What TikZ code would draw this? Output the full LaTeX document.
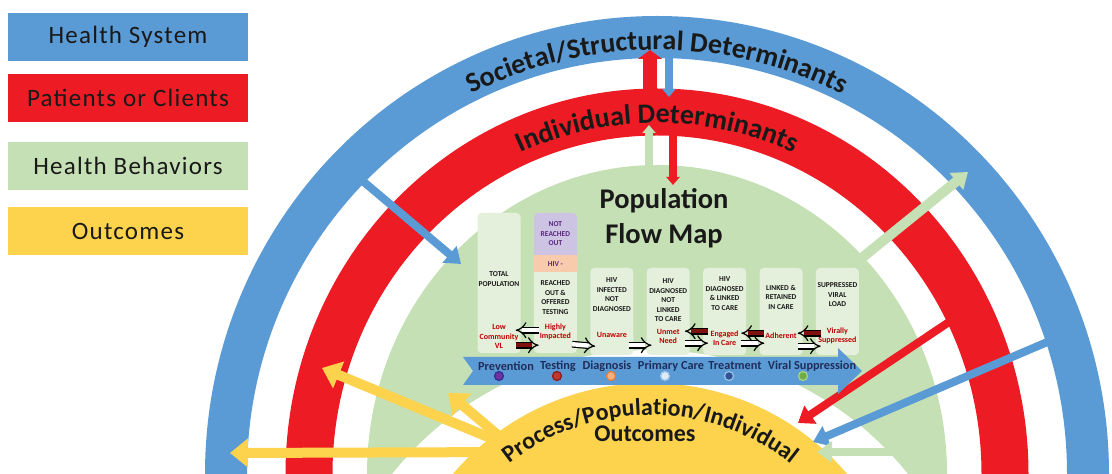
\documentclass[tikz,border=0pt]{standalone}
\usepackage{fontspec}
\setmainfont{Carlito}
\newfontfamily\legendfont[LetterSpace=5]{Carlito}
\usetikzlibrary{arrows.meta,positioning,calc,decorations.text}
\definecolor{sysblue}{HTML}{5B9BD5}
\definecolor{patred}{HTML}{ED1C24}
\definecolor{behgreen}{HTML}{C5E0B4}
\definecolor{outyellow}{HTML}{FDD34D}
\definecolor{boxgreen}{HTML}{E4F0DC}
\definecolor{notpurple}{HTML}{CDC3E3}
\definecolor{negpeach}{HTML}{F8CBAD}
\definecolor{lblred}{HTML}{C00000}
\definecolor{backred}{HTML}{7F1010}
\definecolor{stagenavy}{HTML}{1F2D5A}
\definecolor{dotpurple}{HTML}{7030A0}
\definecolor{dotnavy}{HTML}{2E3192}
\definecolor{dotred}{HTML}{C0392B}
\definecolor{dotdkred}{HTML}{8B1A1A}
\definecolor{dotorange}{HTML}{F4B183}
\definecolor{dotdkorange}{HTML}{ED7D31}
\definecolor{dotpale}{HTML}{DEEBF7}
\definecolor{dotsky}{HTML}{9DC3E6}
\definecolor{dotblue}{HTML}{2F5597}
\definecolor{dotgreen}{HTML}{70AD47}
\definecolor{dotltgreen}{HTML}{A9D18E}
\newcommand{\ringfont}{\bfseries\fontsize{28}{28}\selectfont}
\newcommand{\corefont}{\bfseries\fontsize{24}{24}\selectfont}
\tikzset{
  legendbox/.style={minimum width=240pt,minimum height=48pt,inner sep=0pt,font=\legendfont\fontsize{25}{28}\selectfont,text=black!90},
  flowbox/.style={fill=boxgreen,rounded corners=4pt,minimum width=43pt,inner sep=0pt},
  flowtext/.style={align=center,inner sep=0pt,font=\bfseries\fontsize{7.5}{9.5}\selectfont,text=black!90},
  flowlabel/.style={flowtext,text=lblred,font=\bfseries\fontsize{8}{9.5}\selectfont},
  whitestep/.style={double=white,double distance=4.4pt,line width=1.2pt,-Implies},
  redstep/.style={whitestep,double=backred},
  stagedot/.style={circle,minimum size=9pt,inner sep=0pt,line width=1.2pt},
  stagetext/.style={font=\bfseries\fontsize{12.3}{13}\selectfont,text=stagenavy,inner sep=0pt},
  ringarrow/.style={line width=8pt,-{Triangle[length=15pt,width=21pt]}},
  thinarrow/.style={line width=8pt,-{Triangle[length=8pt,width=13pt]}},
  yellowarrow/.style={line width=10pt,draw=outyellow,-{Triangle[length=18pt,width=28pt]}}
}

\begin{document}
\begin{tikzpicture}[x=1pt,y=1pt]
  \useasboundingbox (0,0) rectangle (1112,474);
  % rings
  \draw[sysblue,line width=42pt] (226,0) arc[start angle=180,end angle=0,x radius=431,y radius=437];
  \draw[patred,line width=47pt] (309,0) arc[start angle=180,end angle=0,x radius=348,y radius=362];
  \fill[behgreen] (367,0) arc[start angle=180,end angle=0,x radius=290,y radius=309] -- cycle;
  \fill[white] (650,-206) circle[radius=330];
  \fill[outyellow] (650,-168) circle[radius=259];

  % legend
  \node[legendbox,fill=sysblue] (lgsys) at (128,437) {Health System};
  \node[legendbox,fill=patred,below=13pt of lgsys] (lgpat) {Patients or Clients};
  \node[legendbox,fill=behgreen,below=19pt of lgpat] (lgbeh) {Health Behaviors};
  \node[legendbox,fill=outyellow,below=17pt of lgbeh] (lgout) {Outcomes};

  % arrows between the rings
  \coordinate (patup0) at (650,380);   \coordinate (patup1) at (650,424);
  \coordinate (sysdn0) at (669,418);   \coordinate (sysdn1) at (669,377);
  \coordinate (behup0) at (649,305);   \coordinate (behup1) at (649,349);
  \coordinate (patdn0) at (673,341);   \coordinate (patdn1) at (673,289);
  \coordinate (sysin0) at (358,297);   \coordinate (sysin1) at (461,210);
  \coordinate (behout0) at (863,217);  \coordinate (behout1) at (968,302);
  \coordinate (patin0) at (952,154);   \coordinate (patin1) at (798,51);
  \coordinate (sysout0) at (1052,134); \coordinate (sysout1) at (813,32);
  \coordinate (behin0) at (907,22);    \coordinate (behin1) at (817,22);
  \coordinate (core0) at (512,27);     \coordinate (core1) at (520,22);
  \coordinate (outpat) at (322,106);   \coordinate (outbeh) at (448,81);
  \coordinate (outsys) at (230,21);
  \draw[patred,line width=14pt,-{Triangle[length=9pt,width=24pt]}] (patup0) -- (patup1);
  \draw[sysblue,thinarrow] (sysdn0) -- (sysdn1);
  \draw[behgreen,thinarrow] (behup0) -- (behup1);
  \draw[patred,thinarrow] (patdn0) -- (patdn1);
  \draw[sysblue,ringarrow] (sysin0) -- (sysin1);
  \draw[behgreen,ringarrow,line width=10pt] (behout0) -- (behout1);
  \draw[patred,ringarrow] (patin0) -- (patin1);
  \draw[sysblue,ringarrow] (sysout0) -- (sysout1);
  \draw[behgreen,ringarrow] (behin0) -- (behin1);
  \draw[yellowarrow] (core0) -- (outpat);
  \draw[yellowarrow] (core0) -- (outbeh);
  \draw[yellowarrow] (core1) -- (outsys);

  % population flow map
  \node[flowbox,minimum height=140pt] (b1) at (499,191) {};
  \node[flowbox,minimum height=140pt,right=13pt of b1] (b2) {};
  \node[flowbox,fill=notpurple,minimum height=46pt,below=0pt of b2.north] (nr) {};
  \node[fill=negpeach,minimum width=43pt,minimum height=17pt,inner sep=0pt,below=-4pt of nr] (neg) {};
  \node[flowbox,minimum height=87pt,right=13pt of b2.south east,anchor=south west,yshift=-2pt] (b3) {};
  \node[flowbox,minimum height=87pt,right=13pt of b3] (b4) {};
  \node[flowbox,minimum height=87pt,right=13pt of b4] (b5) {};
  \node[flowbox,minimum height=87pt,right=13pt of b5] (b6) {};
  \node[flowbox,minimum height=87pt,right=13pt of b6] (b7) {};

  \node[flowtext,below=59pt of b1.north] (t1) {TOTAL\\POPULATION};
  \node[flowtext,text=dotpurple!80!black] (tnr) at ([yshift=2pt]nr.center) {NOT\\REACHED\\OUT};
  \node[flowtext,text=dotpurple!80!black] (tneg) at (neg) {HIV -};
  \node[flowtext,below=8pt of neg] (t2) {REACHED\\OUT \&\\OFFERED\\TESTING};
  \node[flowtext,below=10pt of b3.north] (t3) {HIV\\INFECTED\\NOT\\DIAGNOSED};
  \node[flowtext,below=11pt of b4.north] (t4) {HIV\\DIAGNOSED\\NOT\\LINKED\\TO CARE};
  \node[flowtext,below=9pt of b5.north] (t5) {HIV\\DIAGNOSED\\\& LINKED\\TO CARE};
  \node[flowtext,below=17pt of b6.north] (t6) {LINKED \&\\RETAINED\\IN CARE};
  \node[flowtext,below=15pt of b7.north] (t7) {SUPPRESSED\\VIRAL\\LOAD};

  \node[flowlabel,above=4pt of b1.south] (l1) {Low\\Community\\VL};
  \node[flowlabel,above=13pt of b2.south] (l2) {Highly\\Impacted};
  \node[flowlabel,above=17pt of b3.south] (l3) {Unaware};
  \node[flowlabel,above=11pt of b4.south] (l4) {Unmet\\Need};
  \node[flowlabel,above=9pt of b5.south] (l5) {Engaged\\In Care};
  \node[flowlabel,above=16pt of b6.south] (l6) {Adherent};
  \node[flowlabel,above=11pt of b7.south] (l7) {Virally\\Suppressed};

  \foreach \a/\b/\s/\h in {b1/b2/redstep/8,b2/b3/whitestep/9,b3/b4/whitestep/10,b4/b5/whitestep/12,b5/b6/whitestep/12,b6/b7/whitestep/9}
    \draw[\s] ([xshift=-5pt,yshift=\h]\a.south east) -- ([xshift=5pt,yshift=\h]\b.south west);
  \foreach \a/\b/\s/\h in {b1/b2/whitestep/23,b4/b5/redstep/24,b5/b6/redstep/22,b6/b7/redstep/22}
    \draw[\s] ([xshift=5pt,yshift=\h]\b.south west) -- ([xshift=-5pt,yshift=\h]\a.south east);

  % stages banner
  \fill[sysblue] (463,117) -- (838,117) -- (838,126) -- (862,103) -- (838,80) -- (838,89) -- (463,89) -- (473,103) -- cycle;
  \foreach \x/\f/\d in {499/dotpurple/dotnavy,557/dotred/dotdkred,611/dotorange/dotdkorange,665/dotpale/dotsky,729/dotblue/dotsky,803/dotgreen/dotltgreen}
    \node[stagedot,fill=\f,draw=\d] (dot\x) at (\x,98) {};
  \foreach \x/\t in {506/Prevention,558/Testing,607/Diagnosis,671/Primary Care,735/Treatment,812/Viral Suppression}
    \node[stagetext] (st\x) at (\x,108) {\t};

  % titles
  \node[font=\bfseries\fontsize{28.5}{35}\selectfont,align=center,text=black!90] (title) at (664,256) {Population\\Flow Map};
  \path[decorate,decoration={text along path,text align=center,text color=black!90,
    text={|\ringfont|Societal/Structural Determinants}}]
    (239,0) arc[start angle=180,end angle=0,x radius=418,y radius=424];
  \path[decorate,decoration={text along path,text align=center,text color=black!90,
    text={|\ringfont|Individual Determinants}}]
    (320,0) arc[start angle=180,end angle=0,x radius=337,y radius=351];
  \path[decorate,decoration={text along path,text align=center,text color=black!90,
    text={|\corefont|Process/Population/Individual}}]
    (423,-168) arc[start angle=180,end angle=0,radius=227];
  \node[font=\corefont,text=black!90,anchor=base] (outc) at (645,32) {Outcomes};
\end{tikzpicture}
\end{document}
